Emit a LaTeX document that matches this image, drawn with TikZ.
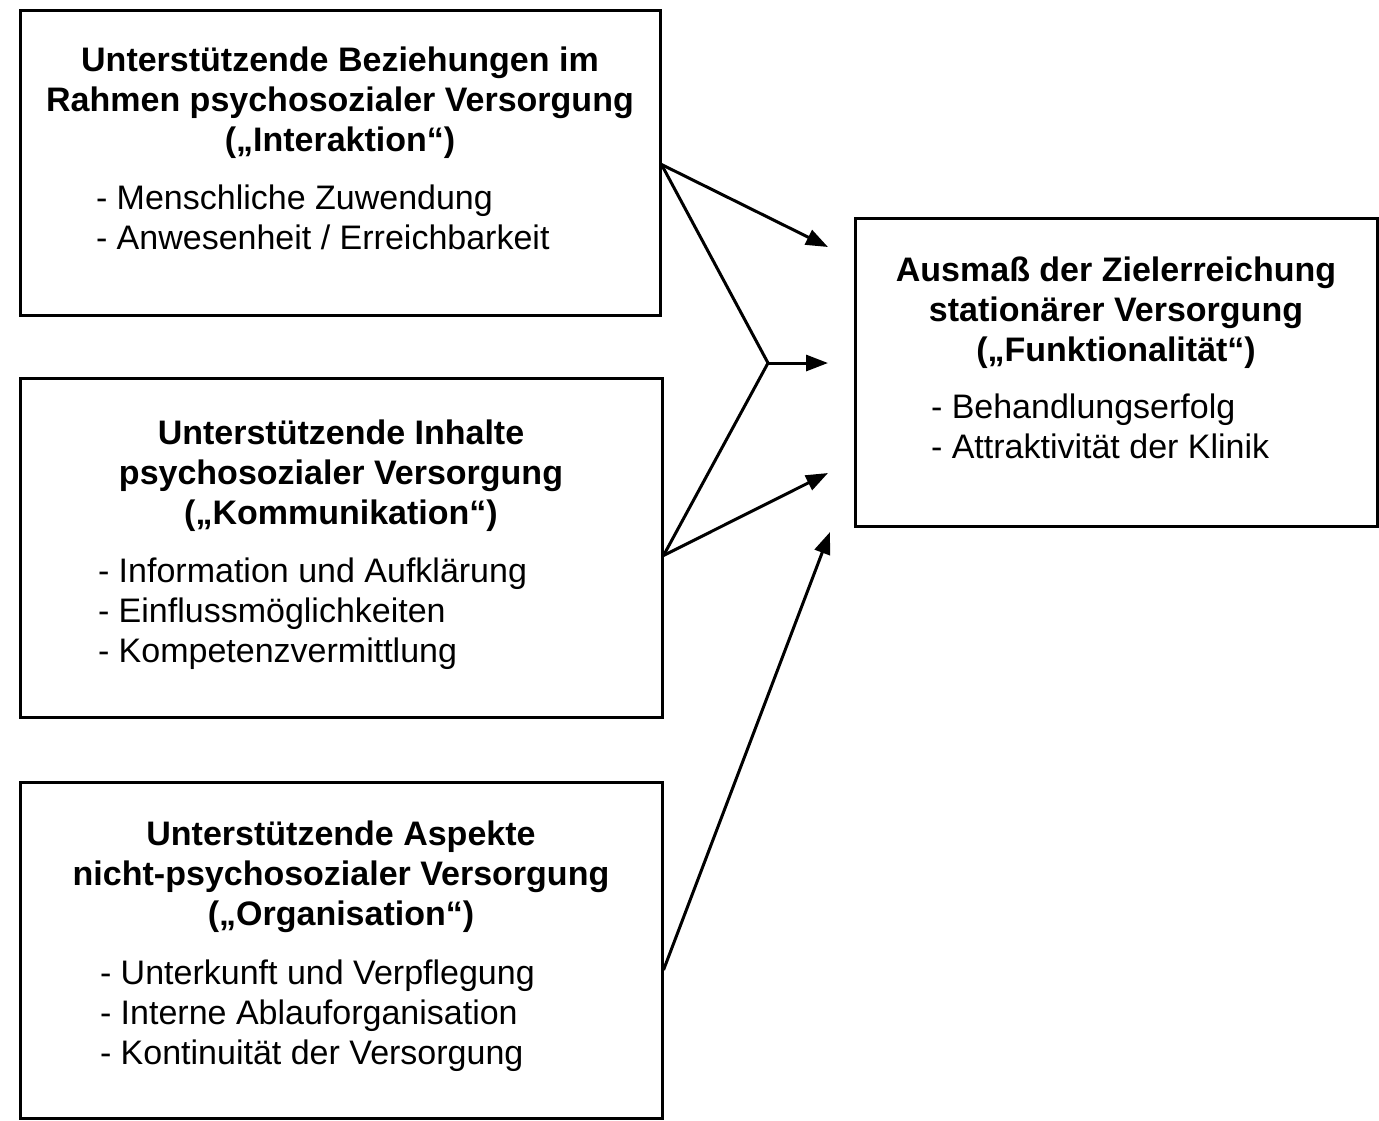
\documentclass[tikz,border=0pt]{standalone}
\usepackage{fontspec}
\setmainfont{Liberation Sans}
\usetikzlibrary{positioning, arrows.meta}
\newcommand{\boxfont}{\fontsize{17pt}{20pt}\selectfont}
\tikzset{>={Triangle[length=11pt, width=8pt]},
    box/.style={draw, rectangle, inner sep=0pt},
    title/.style={font=\boxfont\bfseries, align=center, inner sep=0pt, anchor=north},
    items/.style={font=\boxfont, align=left, inner sep=0pt, anchor=north west}}

\begin{document}
\begin{tikzpicture}[x=0.5pt, y=-0.5pt, line width=1.5pt]
    \useasboundingbox (0,0) rectangle (1379,1120);

    \node[box, minimum width=320pt, minimum height=152.5pt] (b1) at (340,162.5) {};
    \node[box, minimum width=321pt, minimum height=169.5pt] (b2) at (341,547.5) {};
    \node[box, minimum width=321pt, minimum height=168pt] (b3) at (341,950) {};
    \node[box, minimum width=261pt, minimum height=154pt] (b4) at (1116,372) {};

    \node[title] (t1) at ([yshift=-18.5pt]b1.north) {Unterstützende Beziehungen im\\Rahmen psychosozialer Versorgung\\(„Interaktion“)};
    \node[title] (t2) at ([yshift=-21pt]b2.north) {Unterstützende Inhalte\\psychosozialer Versorgung\\(„Kommunikation“)};
    \node[title] (t3) at ([yshift=-19.5pt]b3.north) {Unterstützende Aspekte\\nicht-psychosozialer Versorgung\\(„Organisation“)};
    \node[title] (t4) at ([yshift=-19.5pt]b4.north) {Ausmaß der Zielerreichung\\stationärer Versorgung\\(„Funktionalität“)};

    \node[items] (l1) at ([xshift=38pt, yshift=-11.5pt]b1.west |- t1.south) {- Menschliche Zuwendung\\- Anwesenheit / Erreichbarkeit};
    \node[items] (l2) at ([xshift=39pt, yshift=-11.5pt]b2.west |- t2.south) {- Information und Aufklärung\\- Einflussmöglichkeiten\\- Kompetenzvermittlung};
    \node[items] (l3) at ([xshift=40pt, yshift=-12pt]b3.west |- t3.south) {- Unterkunft und Verpflegung\\- Interne Ablauforganisation\\- Kontinuität der Versorgung};
    \node[items] (l4) at ([xshift=38pt, yshift=-11pt]b4.west |- t4.south) {- Behandlungserfolg\\- Attraktivität der Klinik};

    \coordinate (m) at (768,363);
    \coordinate (p1) at (828,247);
    \coordinate (p2) at (828,363);
    \coordinate (p3) at (828,473);
    \coordinate (p4) at (830,532);

    \draw[->] ([yshift=-1pt]b1.east) -- (p1);
    \draw ([yshift=-1pt]b1.east) -- (m) -- ([yshift=-4pt]b2.east);
    \draw[->] (m) -- (p2);
    \draw[->] ([yshift=-4pt]b2.east) -- (p3);
    \draw[->] ([yshift=-10pt]b3.east) -- (p4);
\end{tikzpicture}
\end{document}
